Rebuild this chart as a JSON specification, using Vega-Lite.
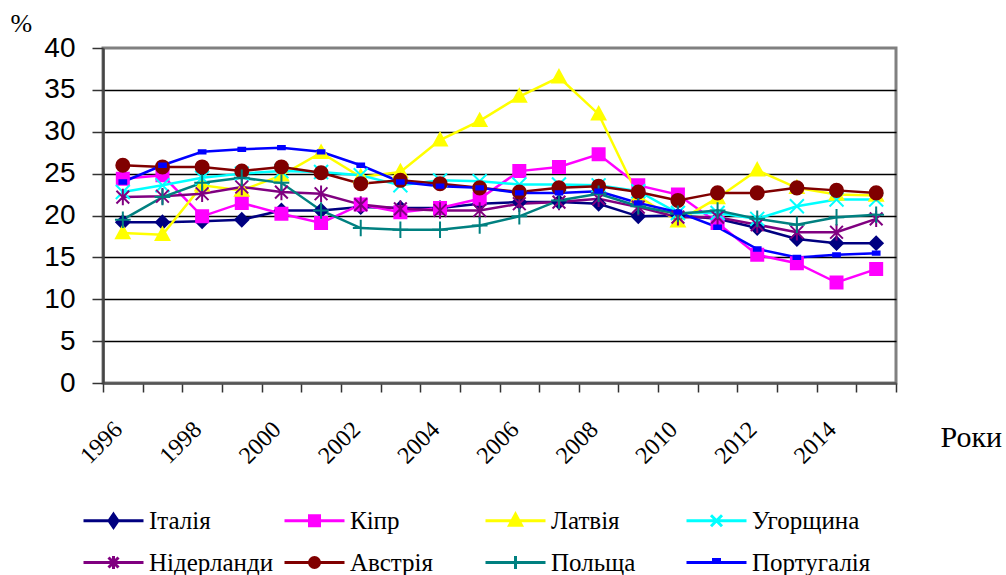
{
  "$schema": "https://vega.github.io/schema/vega-lite/v6.json",
  "width": 793,
  "height": 335,
  "autosize": "none",
  "padding": {"left": 103, "top": 48, "right": 110, "bottom": 192},
  "background": "white",
  "config": {
    "view": {"stroke": "#808080", "strokeWidth": 3},
    "style": {"guide-label": {"font": "Liberation Serif"}},
    "axisX": {"labelFont": "Liberation Serif", "labelFontSize": 24, "titleFont": "Liberation Serif"},
    "axisY": {"labelFont": "Liberation Sans", "labelFontSize": 28, "titleFont": "Liberation Serif"},
    "legend": {"labelFont": "Liberation Serif", "labelFontSize": 25, "labelColor": "#000000"}
  },
  "data": {"values": [
    {"country": "Італія", "year": 1996, "value": 19.2},
    {"country": "Італія", "year": 1997, "value": 19.2},
    {"country": "Італія", "year": 1998, "value": 19.3},
    {"country": "Італія", "year": 1999, "value": 19.5},
    {"country": "Італія", "year": 2000, "value": 20.6},
    {"country": "Італія", "year": 2001, "value": 20.6},
    {"country": "Італія", "year": 2002, "value": 21.0},
    {"country": "Італія", "year": 2003, "value": 20.9},
    {"country": "Італія", "year": 2004, "value": 20.9},
    {"country": "Італія", "year": 2005, "value": 21.4},
    {"country": "Італія", "year": 2006, "value": 21.6},
    {"country": "Італія", "year": 2007, "value": 21.6},
    {"country": "Італія", "year": 2008, "value": 21.4},
    {"country": "Італія", "year": 2009, "value": 19.9},
    {"country": "Італія", "year": 2010, "value": 20.0},
    {"country": "Італія", "year": 2011, "value": 19.6},
    {"country": "Італія", "year": 2012, "value": 18.5},
    {"country": "Італія", "year": 2013, "value": 17.2},
    {"country": "Італія", "year": 2014, "value": 16.7},
    {"country": "Італія", "year": 2015, "value": 16.7},
    {"country": "Кіпр", "year": 1996, "value": 24.4},
    {"country": "Кіпр", "year": 1997, "value": 24.8},
    {"country": "Кіпр", "year": 1998, "value": 19.9},
    {"country": "Кіпр", "year": 1999, "value": 21.5},
    {"country": "Кіпр", "year": 2000, "value": 20.2},
    {"country": "Кіпр", "year": 2001, "value": 19.1},
    {"country": "Кіпр", "year": 2002, "value": 21.3},
    {"country": "Кіпр", "year": 2003, "value": 20.4},
    {"country": "Кіпр", "year": 2004, "value": 20.9},
    {"country": "Кіпр", "year": 2005, "value": 22.0},
    {"country": "Кіпр", "year": 2006, "value": 25.3},
    {"country": "Кіпр", "year": 2007, "value": 25.8},
    {"country": "Кіпр", "year": 2008, "value": 27.3},
    {"country": "Кіпр", "year": 2009, "value": 23.6},
    {"country": "Кіпр", "year": 2010, "value": 22.5},
    {"country": "Кіпр", "year": 2011, "value": 19.1},
    {"country": "Кіпр", "year": 2012, "value": 15.3},
    {"country": "Кіпр", "year": 2013, "value": 14.3},
    {"country": "Кіпр", "year": 2014, "value": 12.0},
    {"country": "Кіпр", "year": 2015, "value": 13.6},
    {"country": "Латвія", "year": 1996, "value": 17.9},
    {"country": "Латвія", "year": 1997, "value": 17.7},
    {"country": "Латвія", "year": 1998, "value": 23.6},
    {"country": "Латвія", "year": 1999, "value": 23.0},
    {"country": "Латвія", "year": 2000, "value": 24.8},
    {"country": "Латвія", "year": 2001, "value": 27.5},
    {"country": "Латвія", "year": 2002, "value": 24.6},
    {"country": "Латвія", "year": 2003, "value": 25.2},
    {"country": "Латвія", "year": 2004, "value": 29.0},
    {"country": "Латвія", "year": 2005, "value": 31.3},
    {"country": "Латвія", "year": 2006, "value": 34.2},
    {"country": "Латвія", "year": 2007, "value": 36.5},
    {"country": "Латвія", "year": 2008, "value": 32.1},
    {"country": "Латвія", "year": 2009, "value": 22.3},
    {"country": "Латвія", "year": 2010, "value": 19.3},
    {"country": "Латвія", "year": 2011, "value": 22.1},
    {"country": "Латвія", "year": 2012, "value": 25.4},
    {"country": "Латвія", "year": 2013, "value": 23.3},
    {"country": "Латвія", "year": 2014, "value": 22.5},
    {"country": "Латвія", "year": 2015, "value": 22.4},
    {"country": "Угорщина", "year": 1996, "value": 22.8},
    {"country": "Угорщина", "year": 1997, "value": 23.6},
    {"country": "Угорщина", "year": 1998, "value": 24.5},
    {"country": "Угорщина", "year": 1999, "value": 25.0},
    {"country": "Угорщина", "year": 2000, "value": 25.3},
    {"country": "Угорщина", "year": 2001, "value": 25.2},
    {"country": "Угорщина", "year": 2002, "value": 24.8},
    {"country": "Угорщина", "year": 2003, "value": 23.6},
    {"country": "Угорщина", "year": 2004, "value": 24.2},
    {"country": "Угорщина", "year": 2005, "value": 24.1},
    {"country": "Угорщина", "year": 2006, "value": 23.7},
    {"country": "Угорщина", "year": 2007, "value": 23.7},
    {"country": "Угорщина", "year": 2008, "value": 23.6},
    {"country": "Угорщина", "year": 2009, "value": 22.9},
    {"country": "Угорщина", "year": 2010, "value": 20.3},
    {"country": "Угорщина", "year": 2011, "value": 20.3},
    {"country": "Угорщина", "year": 2012, "value": 19.6},
    {"country": "Угорщина", "year": 2013, "value": 21.1},
    {"country": "Угорщина", "year": 2014, "value": 21.9},
    {"country": "Угорщина", "year": 2015, "value": 21.9},
    {"country": "Нідерланди", "year": 1996, "value": 22.2},
    {"country": "Нідерланди", "year": 1997, "value": 22.3},
    {"country": "Нідерланди", "year": 1998, "value": 22.6},
    {"country": "Нідерланди", "year": 1999, "value": 23.4},
    {"country": "Нідерланди", "year": 2000, "value": 22.8},
    {"country": "Нідерланди", "year": 2001, "value": 22.6},
    {"country": "Нідерланди", "year": 2002, "value": 21.3},
    {"country": "Нідерланди", "year": 2003, "value": 20.8},
    {"country": "Нідерланди", "year": 2004, "value": 20.6},
    {"country": "Нідерланди", "year": 2005, "value": 20.6},
    {"country": "Нідерланди", "year": 2006, "value": 21.4},
    {"country": "Нідерланди", "year": 2007, "value": 21.6},
    {"country": "Нідерланди", "year": 2008, "value": 22.0},
    {"country": "Нідерланди", "year": 2009, "value": 21.0},
    {"country": "Нідерланди", "year": 2010, "value": 19.8},
    {"country": "Нідерланди", "year": 2011, "value": 19.8},
    {"country": "Нідерланди", "year": 2012, "value": 18.9},
    {"country": "Нідерланди", "year": 2013, "value": 18.0},
    {"country": "Нідерланди", "year": 2014, "value": 18.0},
    {"country": "Нідерланди", "year": 2015, "value": 19.6},
    {"country": "Австрія", "year": 1996, "value": 26.0},
    {"country": "Австрія", "year": 1997, "value": 25.8},
    {"country": "Австрія", "year": 1998, "value": 25.8},
    {"country": "Австрія", "year": 1999, "value": 25.3},
    {"country": "Австрія", "year": 2000, "value": 25.8},
    {"country": "Австрія", "year": 2001, "value": 25.1},
    {"country": "Австрія", "year": 2002, "value": 23.8},
    {"country": "Австрія", "year": 2003, "value": 24.2},
    {"country": "Австрія", "year": 2004, "value": 23.8},
    {"country": "Австрія", "year": 2005, "value": 23.3},
    {"country": "Австрія", "year": 2006, "value": 22.8},
    {"country": "Австрія", "year": 2007, "value": 23.3},
    {"country": "Австрія", "year": 2008, "value": 23.5},
    {"country": "Австрія", "year": 2009, "value": 22.8},
    {"country": "Австрія", "year": 2010, "value": 21.8},
    {"country": "Австрія", "year": 2011, "value": 22.7},
    {"country": "Австрія", "year": 2012, "value": 22.7},
    {"country": "Австрія", "year": 2013, "value": 23.3},
    {"country": "Австрія", "year": 2014, "value": 23.0},
    {"country": "Австрія", "year": 2015, "value": 22.7},
    {"country": "Польща", "year": 1996, "value": 19.5},
    {"country": "Польща", "year": 1997, "value": 22.2},
    {"country": "Польща", "year": 1998, "value": 23.9},
    {"country": "Польща", "year": 1999, "value": 24.5},
    {"country": "Польща", "year": 2000, "value": 23.9},
    {"country": "Польща", "year": 2001, "value": 20.6},
    {"country": "Польща", "year": 2002, "value": 18.5},
    {"country": "Польща", "year": 2003, "value": 18.3},
    {"country": "Польща", "year": 2004, "value": 18.3},
    {"country": "Польща", "year": 2005, "value": 18.8},
    {"country": "Польща", "year": 2006, "value": 19.9},
    {"country": "Польща", "year": 2007, "value": 21.8},
    {"country": "Польща", "year": 2008, "value": 22.6},
    {"country": "Польща", "year": 2009, "value": 21.1},
    {"country": "Польща", "year": 2010, "value": 20.2},
    {"country": "Польща", "year": 2011, "value": 20.6},
    {"country": "Польща", "year": 2012, "value": 19.6},
    {"country": "Польща", "year": 2013, "value": 18.9},
    {"country": "Польща", "year": 2014, "value": 19.8},
    {"country": "Польща", "year": 2015, "value": 20.1},
    {"country": "Португалія", "year": 1996, "value": 24.0},
    {"country": "Португалія", "year": 1997, "value": 26.0},
    {"country": "Португалія", "year": 1998, "value": 27.6},
    {"country": "Португалія", "year": 1999, "value": 27.9},
    {"country": "Португалія", "year": 2000, "value": 28.1},
    {"country": "Португалія", "year": 2001, "value": 27.6},
    {"country": "Португалія", "year": 2002, "value": 26.0},
    {"country": "Португалія", "year": 2003, "value": 24.0},
    {"country": "Португалія", "year": 2004, "value": 23.5},
    {"country": "Португалія", "year": 2005, "value": 23.3},
    {"country": "Португалія", "year": 2006, "value": 22.7},
    {"country": "Португалія", "year": 2007, "value": 22.7},
    {"country": "Португалія", "year": 2008, "value": 22.9},
    {"country": "Португалія", "year": 2009, "value": 21.5},
    {"country": "Португалія", "year": 2010, "value": 20.4},
    {"country": "Португалія", "year": 2011, "value": 18.6},
    {"country": "Португалія", "year": 2012, "value": 16.0},
    {"country": "Португалія", "year": 2013, "value": 15.0},
    {"country": "Португалія", "year": 2014, "value": 15.3},
    {"country": "Португалія", "year": 2015, "value": 15.5}
  ]},
  "encoding": {
    "x": {
      "field": "year", "type": "quantitative",
      "scale": {"domain": [1995.5, 2015.5], "nice": false, "zero": false},
      "axis": {
        "values": [1995.5,1996,1996.5,1997.5,1998,1998.5,1999.5,2000,2000.5,2001.5,2002,2002.5,2003.5,2004,2004.5,2005.5,2006,2006.5,2007.5,2008,2008.5,2009.5,2010,2010.5,2011.5,2012,2012.5,2013.5,2014,2014.5,2015.5],
        "labelExpr": "datum.value % 1 === 0 ? toString(datum.value) : ''",
        "tickOpacity": {"condition": {"test": "datum.value % 1 === 0", "value": 0}, "value": 1},
        "grid": false,
        "domainColor": "#555555", "domainWidth": 2.5,
        "tickColor": "#333333", "tickWidth": 1.5, "tickSize": 9,
        "labelFont": "Liberation Serif", "labelFontSize": 24, "labelColor": "#000000",
        "labelAngle": -45, "labelAlign": "right", "labelBaseline": "top",
        "labelOffset": -13, "labelPadding": 25,
        "labelOverlap": false, "labelBound": false, "labelFlush": false,
        "title": "Роки", "titleFont": "Liberation Serif", "titleFontSize": 30, "titleFontWeight": "normal",
        "titleColor": "#000000", "titleX": 837, "titleY": 54, "titleAlign": "left", "titleBaseline": "middle", "titleAngle": 0
      }
    },
    "y": {
      "field": "value", "type": "quantitative",
      "scale": {"domain": [0, 40], "nice": false},
      "axis": {
        "values": [0, 5, 10, 15, 20, 25, 30, 35, 40],
        "grid": true, "gridColor": "#000000", "gridWidth": 1.5,
        "gridOpacity": {"condition": {"test": "datum.value === 0 || datum.value === 40", "value": 0}, "value": 1},
        "domainColor": "#444444", "domainWidth": 2.5,
        "tickColor": "#333333", "tickWidth": 1.5, "tickSize": 11,
        "labelFont": "Liberation Sans", "labelFontSize": 28, "labelColor": "#000000", "labelPadding": 17,
        "title": "%", "titleFont": "Liberation Serif", "titleFontSize": 26, "titleFontWeight": "normal",
        "titleColor": "#000000", "titleAngle": 0, "titleX": -93, "titleY": -38, "titleAlign": "left", "titleBaseline": "top"
      }
    }
  },
  "layer": [
    {
      "mark": {"type": "line", "strokeWidth": 2.5},
      "encoding": {
        "color": {"field": "country", "type": "nominal",
          "scale": {"domain": ["Італія","Кіпр","Латвія","Угорщина","Нідерланди","Австрія","Польща","Португалія"],
                    "range": ["#000080","#FF00FF","#FFFF00","#00FFFF","#800080","#800000","#008080","#0000FF"]},
          "legend": null}
      }
    },
    {
      "mark": {"type": "point", "filled": true, "opacity": 1, "size": 225, "strokeWidth": 2},
      "encoding": {
        "color": {"field": "country", "type": "nominal",
          "scale": {"domain": ["Італія","Кіпр","Латвія","Угорщина","Нідерланди","Австрія","Польща","Португалія"],
                    "range": ["#000080","#FF00FF","#FFFF00","#00FFFF","#800080","#800000","#008080","#0000FF"]},
          "legend": null},
        "stroke": {"field": "country", "type": "nominal",
          "scale": {"domain": ["Італія","Кіпр","Латвія","Угорщина","Нідерланди","Австрія","Польща","Португалія"],
                    "range": ["#000080","#FF00FF","#FFFF00","#00FFFF","#800080","#800000","#008080","#0000FF"]},
          "legend": null},
        "shape": {"field": "country", "type": "nominal",
          "scale": {"domain": ["Італія","Кіпр","Латвія","Угорщина","Нідерланди","Австрія","Польща","Португалія"],
                    "range": [
                      "M0,-0.87L0.87,0L0,0.87L-0.87,0Z",
                      "M-0.8,-0.8H0.8V0.8H-0.8Z",
                      "M0,-0.95L0.9,0.7L-0.9,0.7Z",
                      "M-0.93,-0.93L0.93,0.93M-0.93,0.93L0.93,-0.93",
                      "M-0.85,-0.85L0.85,0.85M-0.85,0.85L0.85,-0.85M0,-1.1V1.1",
                      "M0.87,0A0.87,0.87,0,1,1,-0.87,0A0.87,0.87,0,1,1,0.87,0Z",
                      "M-1.05,0H1.05M0,-1.1V1.1",
                      "M-0.45,-0.22H0.45V0.22H-0.45Z"
                    ]},
          "legend": null}
      }
    },
    {
      "transform": [{"filter": "datum.year < 0"}],
      "mark": {"type": "point", "filled": true, "opacity": 1, "size": 400, "strokeWidth": 3},
      "encoding": {
        "color": {"field": "country", "type": "nominal",
          "scale": {"domain": ["Італія","Кіпр","Латвія","Угорщина","Нідерланди","Австрія","Польща","Португалія"],
                    "range": ["#000080","#FF00FF","#FFFF00","#00FFFF","#800080","#800000","#008080","#0000FF"]},
          "legend": {"title": null, "orient": "none", "legendX": -22, "legendY": 460, "direction": "horizontal", "columns": 4, "gridAlign": "all",
                     "symbolSize": 400, "symbolStrokeWidth": 3, "symbolOpacity": 1, "labelFont": "Liberation Serif", "labelFontSize": 25, "labelColor": "#000000",
                     "labelOffset": 43, "columnPadding": 4, "rowPadding": 16, "padding": 0, "labelLimit": 300}},
        "stroke": {"field": "country", "type": "nominal",
          "scale": {"domain": ["Італія","Кіпр","Латвія","Угорщина","Нідерланди","Австрія","Польща","Португалія"],
                    "range": ["#000080","#FF00FF","#FFFF00","#00FFFF","#800080","#800000","#008080","#0000FF"]},
          "legend": {"title": null, "orient": "none", "legendX": -22, "legendY": 460, "direction": "horizontal", "columns": 4, "gridAlign": "all",
                     "symbolSize": 400, "symbolStrokeWidth": 3, "symbolOpacity": 1, "labelFont": "Liberation Serif", "labelFontSize": 25, "labelColor": "#000000",
                     "labelOffset": 43, "columnPadding": 4, "rowPadding": 16, "padding": 0, "labelLimit": 300}},
        "shape": {"field": "country", "type": "nominal",
          "scale": {"domain": ["Італія","Кіпр","Латвія","Угорщина","Нідерланди","Австрія","Польща","Португалія"],
                    "range": [
                      "M-1,0H5M2,-0.65L2.45,0L2,0.65L1.55,0Z",
                      "M-1,0H5M1.5,-0.5H2.5V0.5H1.5Z",
                      "M-1,0H5M2,-0.65L2.6,0.45L1.4,0.45Z",
                      "M-1,0H5M1.45,-0.55L2.55,0.55M1.45,0.55L2.55,-0.55",
                      "M-1,0H5M1.5,-0.5L2.5,0.5M1.5,0.5L2.5,-0.5M2,-0.65V0.65",
                      "M-1,0H5M2.5,0A0.5,0.5,0,1,1,1.5,0A0.5,0.5,0,1,1,2.5,0Z",
                      "M-1,0H5M1.35,0H2.65M2,-0.65V0.65",
                      "M-1,0H5M1.7,-0.3H2.3V0H1.7Z"
                    ]},
          "legend": {"title": null, "orient": "none", "legendX": -22, "legendY": 460, "direction": "horizontal", "columns": 4, "gridAlign": "all",
                     "symbolSize": 400, "symbolStrokeWidth": 3, "symbolOpacity": 1, "labelFont": "Liberation Serif", "labelFontSize": 25, "labelColor": "#000000",
                     "labelOffset": 43, "columnPadding": 4, "rowPadding": 16, "padding": 0, "labelLimit": 300}}
      }
    }
  ],
  "resolve": {"scale": {"color": "independent", "stroke": "independent", "shape": "independent"}}
}
